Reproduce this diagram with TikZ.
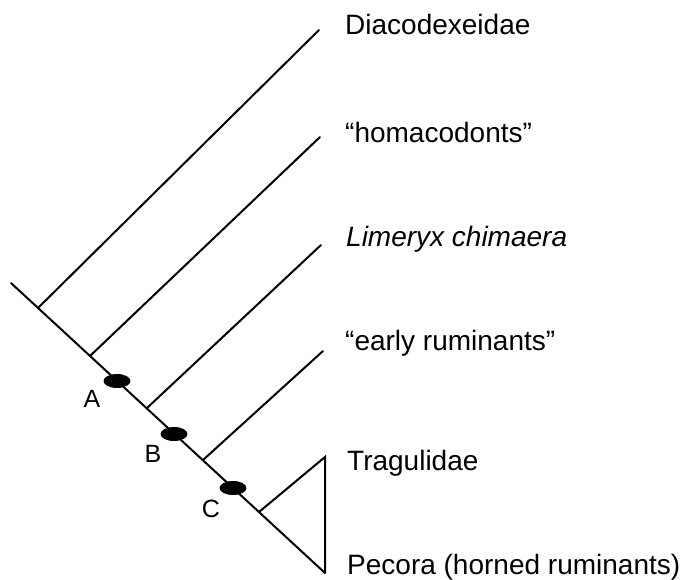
\documentclass[tikz,border=0pt]{standalone}
\usepackage{fontspec}
\setmainfont{Liberation Sans}
\usetikzlibrary{shapes.geometric}
\begin{document}
\begin{tikzpicture}[x=1pt,y=-1pt,
  line/.style={line width=2pt,line cap=round},
  taxon/.style={anchor=base west,inner sep=0pt,font=\fontsize{28}{31}\selectfont},
  apo/.style={ellipse,fill=black,inner sep=0pt,minimum width=27pt,minimum height=14pt},
  apolabel/.style={inner sep=0pt,font=\fontsize{25}{27}\selectfont}]
\useasboundingbox (0,0) rectangle (686,579);
% spine
\coordinate (root) at (11,283);
\coordinate (n1) at (38,308);
\coordinate (n2) at (90,356);
\coordinate (n3) at (147,408);
\coordinate (n4) at (203,460);
\coordinate (n5) at (259,512);
\coordinate (tip) at (325,573);
\coordinate (top) at (325,457);
% branch ends
\coordinate (e1) at (319,30);
\coordinate (e2) at (320,137);
\coordinate (e3) at (321,245);
\coordinate (e4) at (323,351);
% labels
\node[taxon] (t1) at (345,34) {Diacodexeidae};
\node[taxon] (t2) at (345,142) {“homacodonts”};
\node[taxon] (t3) at (346,246) {\itshape Limeryx chimaera};
\node[taxon] (t4) at (345,350) {“early ruminants”};
\node[taxon] (t5) at (347,470) {Tragulidae};
\node[taxon] (t6) at (347,574) {Pecora (horned ruminants)};
% lines
\draw[line] (root) -- (tip);
\draw[line] (n1) -- (e1);
\draw[line] (n2) -- (e2);
\draw[line] (n3) -- (e3);
\draw[line] (n4) -- (e4);
\draw[line] (n5) -- (top) -- (tip);
% apomorphies
\node[apo] (A) at (117,381) {};
\node[apo] (B) at (174,434) {};
\node[apo] (C) at (233,488) {};
\node[apolabel] (la) at (92,399) {A};
\node[apolabel] (lb) at (153,454) {B};
\node[apolabel] (lc) at (211,509) {C};
\end{tikzpicture}
\end{document}
